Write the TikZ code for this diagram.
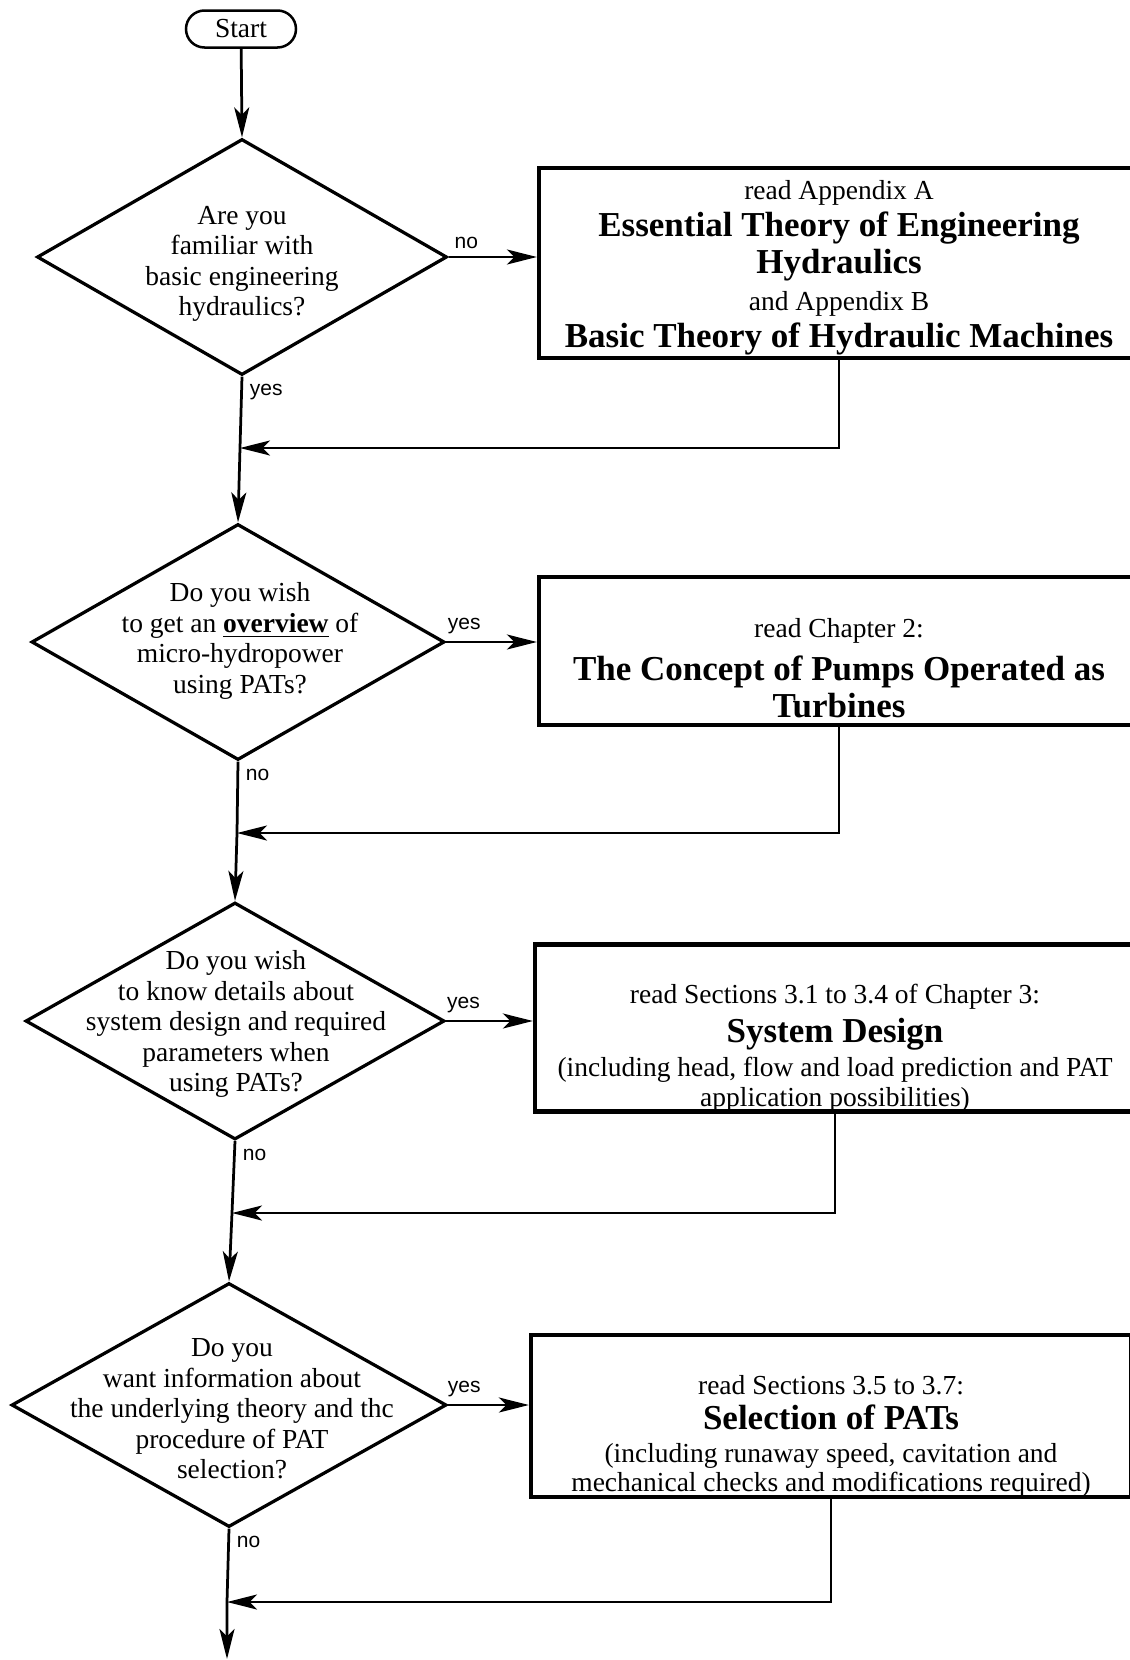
\documentclass[tikz,border=0pt]{standalone}
\usepackage{fontspec}
\setmainfont{Liberation Serif}
\newfontfamily\answerfont{Liberation Sans}
\usetikzlibrary{shapes.geometric,arrows.meta}
\tikzset{flow/.style={line width=1.1pt,-{Stealth[length=12pt,width=6pt,inset=3pt]}}}
\tikzset{startbox/.style={draw,rectangle,rounded corners=7.4pt,line width=1pt,
  minimum width=44pt,minimum height=14.8pt,inner sep=0pt,font=\fontsize{11}{13}\selectfont}}
\tikzset{decision/.style={draw,diamond,line width=1.3pt,inner sep=0pt}}
\tikzset{question/.style={align=center,inner sep=0pt}}
\tikzset{readbox/.style={draw,rectangle,line width=1.7pt,minimum width=240pt,inner sep=0pt}}
\tikzset{readtext/.style={align=center,inner sep=0pt}}
\tikzset{answer/.style={font=\answerfont\fontsize{8.4}{10}\selectfont,inner sep=2.6pt}}
\newcommand{\chaptitle}{\fontsize{14}{14.8}\selectfont\bfseries}

\begin{document}
\begin{tikzpicture}[x=0.4pt,y=-0.4pt]

\useasboundingbox (0,0) rectangle (1130,1660);

\node[startbox] (start) at (241,29) {Start};

% questions
\node[decision,minimum width=164pt,minimum height=94.4pt] (d1) at (242,257) {};
\node[decision,minimum width=165.2pt,minimum height=94.4pt] (d2) at (238,642) {};
\node[decision,minimum width=167.6pt,minimum height=94.8pt] (d3) at (235,1021) {};
\node[decision,minimum width=174pt,minimum height=97.6pt] (d4) at (229,1405) {};

\node[question,font=\fontsize{11}{12.2}\selectfont] (q1) at (242,264)
  {Are you\\familiar with\\basic engineering\\hydraulics?};
\node[question,font=\fontsize{11}{12.2}\selectfont] (q2) at (240,641)
  {Do you wish\\to get an \underline{\textbf{overview}} of\\micro-hydropower\\using PATs?};
\node[question,font=\fontsize{11}{12.2}\selectfont] (q3) at (236,1024)
  {Do you wish\\to know details about\\system design and required\\parameters when\\using PATs?};
\node[question,font=\fontsize{11}{12.2}\selectfont] (q4) at (232,1409)
  {Do you\\want information about\\the underlying theory and thc\\procedure of PAT\\selection?};

% chapters to read
\node[readbox,minimum height=76pt] (r1) at (839,263) {};
\node[readbox,minimum height=59.2pt] (r2) at (839,651) {};
\node[readbox,minimum height=66.8pt] (r3) at (835,1028) {};
\node[readbox,minimum height=64.8pt] (r4) at (831,1416) {};

\node[readtext,font=\fontsize{11}{14.8}\selectfont] (t1) at (839,268)
  {read Appendix A\\{\chaptitle Essential Theory of Engineering}\\{\chaptitle Hydraulics}\\
   and Appendix B\\{\chaptitle Basic Theory of Hydraulic Machines}};
\node[readtext,font=\fontsize{11}{14.8}\selectfont] (t2) at (839,668)
  {read Chapter 2:\\[2.4pt]{\chaptitle The Concept of Pumps Operated as}\\{\chaptitle Turbines}};
\node[readtext,font=\fontsize{11}{12}\selectfont] (t3) at (835,1048)
  {read Sections 3.1 to 3.4 of Chapter 3:\\[2.4pt]{\chaptitle System Design}\\[1.6pt]
   (including head, flow and load prediction and PAT\\application possibilities)};
\node[readtext,font=\fontsize{11}{11.6}\selectfont] (t4) at (831,1436)
  {read Sections 3.5 to 3.7:\\[2.4pt]{\chaptitle Selection of PATs}\\[1.6pt]
   (including runaway speed, cavitation and\\mechanical checks and modifications required)};

% merge points on the main line
\coordinate (m1) at (240,448);
\coordinate (m2) at (237,833);
\coordinate (m3) at (232,1213);
\coordinate (m4) at (227,1602);
\coordinate (end) at (227,1659);

\draw[flow] (start) -- (d1.north);

\draw[flow] (d1.east) -- node[answer,above,pos=0.2] {no} (d1.east -| r1.west);
\draw[flow] (d2.east) -- node[answer,above,pos=0.2] {yes} (d2.east -| r2.west);
\draw[flow] (d3.east) -- node[answer,above,pos=0.2] {yes} (d3.east -| r3.west);
\draw[flow] (d4.east) -- node[answer,above,pos=0.2] {yes} (d4.east -| r4.west);

\draw[flow] (d1.south) -- node[answer,below right,pos=0] {yes} (m1) -- (d2.north);
\draw[flow] (d2.south) -- node[answer,below right,pos=0] {no} (m2) -- (d3.north);
\draw[flow] (d3.south) -- node[answer,below right,pos=0] {no} (m3) -- (d4.north);
\draw[flow] (d4.south) -- node[answer,below right,pos=0] {no} (m4) -- (end);

\draw[flow] (r1.south) |- (m1);
\draw[flow] (r2.south) |- (m2);
\draw[flow] (r3.south) |- (m3);
\draw[flow] (r4.south) |- (m4);

\end{tikzpicture}
\end{document}
